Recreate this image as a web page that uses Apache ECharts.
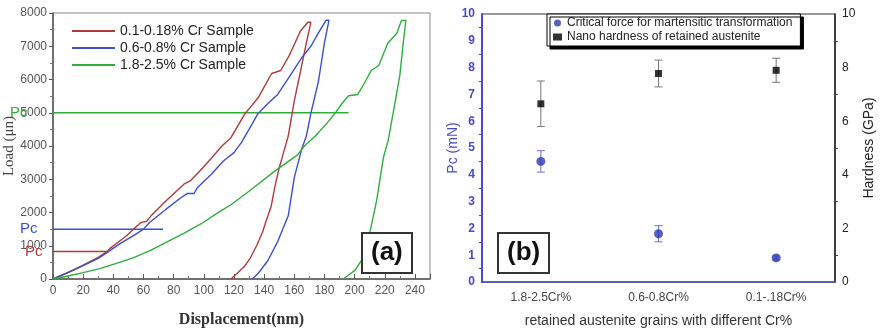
<!DOCTYPE html>
<html>
<head>
<meta charset="utf-8">
<script src="https://cdn.jsdelivr.net/npm/echarts@6/dist/echarts.min.js"></script>
<style>
  html, body { margin: 0; padding: 0; background: #fff; }
  #chart { width: 880px; height: 333px; }
</style>
</head>
<body>
<div id="chart"></div>
<script>
// panel (a): load-displacement curves, [displacement nm, load]
const lowCrCurve = [
  [0, 0], [10, 200], [20, 420], [30, 650], [36, 830], [38, 930], [48, 1270], [58, 1690],
  [60, 1720], [62, 1730], [65, 1900], [75, 2350], [87, 2860], [91, 2950], [98, 3280],
  [105, 3630], [112, 4000], [118, 4250], [127, 4950], [136, 5450], [145, 6180], [151, 6270],
  [157, 6750], [164, 7450], [169, 7720], [171, 7720],
  [168, 7100], [165.8, 6610], [163, 6000], [160, 5360], [156, 4300], [152.4, 3725],
  [150, 3340], [147, 2750], [144.7, 2190], [141, 1700], [139, 1415], [135, 1000],
  [131, 645], [127, 380], [122, 165], [118, 0]
];
const midCrCurve = [
  [0, 0], [10, 190], [20, 400], [30, 620], [36, 800], [45, 1080], [55, 1350], [60, 1500],
  [64, 1700], [75, 2100], [85, 2450], [89, 2570], [93.5, 2570], [96, 2760], [105, 3150],
  [113, 3550], [120, 3800], [125, 4110], [130, 4500], [136, 4980], [143, 5300], [149, 5550],
  [157, 6100], [165, 6660], [171, 7000], [176, 7400], [181, 7780], [183, 7780],
  [180, 7100], [176, 5940], [171, 4980], [168, 4300], [165, 3920], [160, 3050],
  [156, 1900], [149, 1126], [142.4, 550], [136, 165], [132, 0]
];
const highCrCurve = [
  [0, 0], [10, 90], [20, 190], [31, 310], [42, 470], [53.5, 645], [65, 870], [76, 1126],
  [87, 1380], [98, 1655], [111, 2040], [118, 2233], [130, 2640], [147, 3243], [162, 3725],
  [167, 4014], [174, 4303], [181, 4650], [187, 4980], [192, 5300], [196, 5510], [202, 5550],
  [206, 5850], [211, 6270], [216, 6420], [222, 7090], [228, 7390], [231, 7770], [234, 7780],
  [232, 7000], [230, 6130], [226, 5100], [222.4, 4200], [219, 3630], [214.7, 2380],
  [210.2, 1415], [205.8, 645], [200.2, 260], [192.4, 0]
];
// critical load (Pc) marker lines
const pcLowCr = [[0, 830], [37, 830]];
const pcMidCr = [[0, 1500], [73, 1500]];
const pcHighCr = [[0, 5000], [196, 5000]];

// panel (b)
const crGroups = ['1.8-2.5Cr%', '0.6-0.8Cr%', '0.1-.18Cr%'];
const pcValues = [4.5, 1.8, 0.9];
const pcErrors = [[0, 4.1, 4.9], [1, 1.5, 2.1], [2, 0.83, 0.97]];
const hardValues = [6.65, 7.78, 7.9];
const hardErrors = [[0, 5.8, 7.5], [1, 7.28, 8.28], [2, 7.45, 8.35]];

const sans = 'Liberation Sans';
const serif = 'Liberation Serif';
const red = '#b23a3a';
const blue = '#3b4fd0';
const green = '#2fae3c';
const axisBlue = '#4a4ac8';

function errorBars(color) {
  return function (params, api) {
    const x = api.value(0);
    const lo = api.coord([x, api.value(1)]);
    const hi = api.coord([x, api.value(2)]);
    const w = 4;
    const style = { stroke: color, lineWidth: 1 };
    return {
      type: 'group',
      children: [
        { type: 'line', shape: { x1: lo[0], y1: lo[1], x2: hi[0], y2: hi[1] }, style },
        { type: 'line', shape: { x1: hi[0] - w, y1: hi[1], x2: hi[0] + w, y2: hi[1] }, style },
        { type: 'line', shape: { x1: lo[0] - w, y1: lo[1], x2: lo[0] + w, y2: lo[1] }, style }
      ]
    };
  };
}

function pcLine(data, color, dist) {
  return {
    type: 'line',
    xAxisIndex: 0,
    yAxisIndex: 0,
    data: [
      { value: data[0], label: { show: true, position: 'left', distance: dist, formatter: 'Pc', color, fontSize: 15, fontFamily: sans } },
      data[1]
    ],
    symbol: 'circle',
    symbolSize: 1,
    itemStyle: { color: 'rgba(0,0,0,0)' },
    lineStyle: { color, width: 1.5 },
    silent: true,
    z: 1
  };
}

const chart = echarts.init(document.getElementById('chart'));
chart.setOption({
  animation: false,
  title: [
    {
      text: '(a)', left: 362, top: 233, padding: [7, 9],
      borderColor: '#333', borderWidth: 2, backgroundColor: '#fff',
      textStyle: { fontSize: 26, fontWeight: 'bold', fontFamily: sans, color: '#111' }
    },
    {
      text: '(b)', left: 498, top: 233, padding: [7, 9],
      borderColor: '#333', borderWidth: 2, backgroundColor: '#fff',
      textStyle: { fontSize: 26, fontWeight: 'bold', fontFamily: sans, color: '#111' }
    }
  ],
  legend: [
    {
      data: ['0.1-0.18% Cr Sample', '0.6-0.8% Cr Sample', '1.8-2.5% Cr Sample'],
      orient: 'vertical', left: 72, top: 24, padding: 0, itemGap: 3,
      icon: 'rect', itemWidth: 43, itemHeight: 2,
      textStyle: { fontSize: 14, fontFamily: sans, color: '#222', lineHeight: 14 }
    },
    {
      data: ['Critical force for martensitic transformation', 'Nano hardness of retained austenite'],
      orient: 'vertical', left: 547, top: 14, padding: [3, 8, 3, 6], itemGap: 2,
      itemWidth: 9, itemHeight: 7,
      backgroundColor: '#fff', borderColor: '#000', borderWidth: 1,
      shadowColor: '#000', shadowBlur: 0, shadowOffsetX: 3, shadowOffsetY: 3,
      textStyle: { fontSize: 12, fontFamily: sans, color: '#222' }
    }
  ],
  grid: [
    { left: 53, right: 450, top: 13, bottom: 44, show: true, borderColor: '#888', borderWidth: 1 },
    { left: 482, right: 45, top: 14, bottom: 45, show: true, borderColor: '#333', borderWidth: 1 }
  ],
  xAxis: [
    {
      gridIndex: 0, type: 'value', min: 0, max: 250, interval: 20,
      name: 'Displacement(nm)', nameLocation: 'middle', nameGap: 33,
      nameTextStyle: { fontFamily: serif, fontWeight: 'bold', fontSize: 16, color: '#333' },
      axisLine: { lineStyle: { color: '#555', width: 1.5 } },
      axisTick: { inside: true, length: 5, lineStyle: { color: '#555' } },
      minorTick: { show: true, splitNumber: 2, length: 3, lineStyle: { color: '#777' } },
      axisLabel: { fontFamily: sans, fontSize: 12, color: '#555', margin: 6, formatter: v => (v > 240 ? '' : String(v)) },
      splitLine: { show: false }
    },
    {
      gridIndex: 1, type: 'category', data: crGroups,
      name: 'retained austenite grains with different Cr%', nameLocation: 'middle', nameGap: 32,
      nameTextStyle: { fontFamily: sans, fontSize: 14, color: '#333' },
      axisLine: { lineStyle: { color: axisBlue, width: 1.5 } },
      axisTick: { alignWithLabel: true, length: 4, lineStyle: { color: axisBlue } },
      axisLabel: { fontFamily: sans, fontSize: 12, color: '#444', margin: 10 },
      splitLine: { show: false }
    }
  ],
  yAxis: [
    {
      gridIndex: 0, type: 'value', min: 0, max: 8000, interval: 1000,
      name: 'Load (μn)', nameLocation: 'middle', nameGap: 36, nameMoveOverlap: false,
      nameTextStyle: { fontFamily: serif, fontSize: 15, color: '#444' },
      axisLine: { show: true, lineStyle: { color: '#555', width: 1.5 } },
      axisTick: { length: 4, lineStyle: { color: '#555' } },
      minorTick: { show: true, splitNumber: 2, length: 3, lineStyle: { color: '#777' } },
      axisLabel: { fontFamily: sans, fontSize: 12, color: '#555', margin: 6, formatter: v => String(v) },
      splitLine: { show: false }
    },
    {
      gridIndex: 1, type: 'value', min: 0, max: 10, interval: 1, position: 'left',
      name: 'Pc (mN)', nameLocation: 'middle', nameGap: 22, nameMoveOverlap: false,
      nameTextStyle: { fontFamily: sans, fontSize: 14, color: axisBlue },
      axisLine: { show: true, lineStyle: { color: axisBlue, width: 2 } },
      axisTick: { length: 4, lineStyle: { color: axisBlue } },
      minorTick: { show: true, splitNumber: 2, length: 3, lineStyle: { color: axisBlue } },
      axisLabel: { fontFamily: sans, fontSize: 12, fontWeight: 'bold', color: axisBlue, margin: 7 },
      splitLine: { show: false }
    },
    {
      gridIndex: 1, type: 'value', min: 0, max: 10, interval: 2, position: 'right',
      name: 'Hardness (GPa)', nameLocation: 'middle', nameGap: 27, nameRotate: 90,
      nameTextStyle: { fontFamily: sans, fontSize: 14, color: '#222' },
      axisLine: { show: true, lineStyle: { color: '#222', width: 1.5 } },
      axisTick: { length: 4, lineStyle: { color: '#222' } },
      minorTick: { show: true, splitNumber: 2, length: 3, lineStyle: { color: '#444' } },
      axisLabel: { fontFamily: sans, fontSize: 12, color: '#222', margin: 7 },
      splitLine: { show: false }
    }
  ],
  series: [
    pcLine(pcHighCr, green, 25),
    pcLine(pcMidCr, blue, 15),
    pcLine(pcLowCr, red, 10),
    {
      name: '0.1-0.18% Cr Sample', type: 'line', xAxisIndex: 0, yAxisIndex: 0,
      data: lowCrCurve, symbol: 'none', lineStyle: { color: red, width: 1.4 }, itemStyle: { color: red }, z: 3
    },
    {
      name: '0.6-0.8% Cr Sample', type: 'line', xAxisIndex: 0, yAxisIndex: 0,
      data: midCrCurve, symbol: 'none', lineStyle: { color: blue, width: 1.4 }, itemStyle: { color: blue }, z: 3
    },
    {
      name: '1.8-2.5% Cr Sample', type: 'line', xAxisIndex: 0, yAxisIndex: 0,
      data: highCrCurve, symbol: 'none', lineStyle: { color: green, width: 1.4 }, itemStyle: { color: green }, z: 3
    },
    {
      type: 'custom', xAxisIndex: 1, yAxisIndex: 1, data: pcErrors,
      renderItem: errorBars('#6f6fd8'), z: 2
    },
    {
      type: 'custom', xAxisIndex: 1, yAxisIndex: 2, data: hardErrors,
      renderItem: errorBars('#777'), z: 2
    },
    {
      name: 'Critical force for martensitic transformation', type: 'scatter',
      xAxisIndex: 1, yAxisIndex: 1, data: pcValues,
      symbol: 'circle', symbolSize: 9, itemStyle: { color: '#2a38b0' }, z: 4
    },
    {
      name: 'Nano hardness of retained austenite', type: 'scatter',
      xAxisIndex: 1, yAxisIndex: 2, data: hardValues,
      symbol: 'rect', symbolSize: 7, itemStyle: { color: '#000' }, z: 4
    }
  ]
});
</script>
</body>
</html>
